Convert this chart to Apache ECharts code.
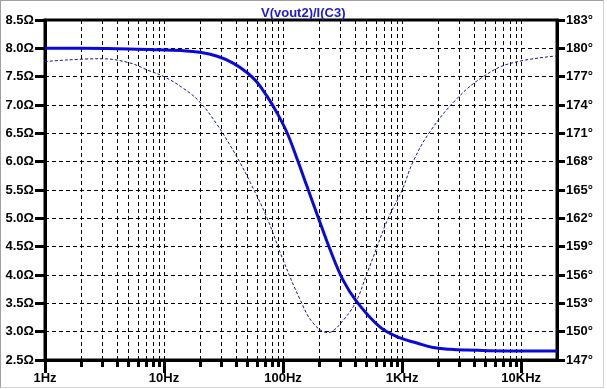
<!DOCTYPE html>
<html>
<head>
<meta charset="utf-8">
<script src="https://cdn.jsdelivr.net/npm/echarts@6/dist/echarts.min.js"></script>
<style>
html,body{margin:0;padding:0;background:#fff;}
#chart{position:absolute;left:0;top:0;width:607px;height:389px;}
#frame{position:absolute;left:0;top:0;width:604px;height:388px;box-sizing:border-box;
  border-top:1px solid #a0a0a0;border-left:1px solid #a0a0a0;border-right:1px solid #d4d4d4;border-bottom:1px solid #d4d4d4;pointer-events:none;}
</style>
</head>
<body>
<div id="chart"></div>
<div id="frame"></div>
<script>
// ---- data ----
const titleText = 'V(vout2)/I(C3)';

// magnitude |Z| (Ω), left axis
const magFreq = [1, 2, 5, 7.6, 14, 20, 28, 38, 50, 60, 73, 89, 108, 131, 159, 197, 248, 319, 419, 653, 962, 1330, 1820, 2530, 3500, 5200, 10000, 20000];
const magVals = [8.00, 8.00, 7.99, 7.98, 7.96, 7.93, 7.86, 7.74, 7.57, 7.41, 7.16, 6.86, 6.51, 6.05, 5.56, 5.02, 4.45, 3.91, 3.52, 3.08, 2.89, 2.80, 2.72, 2.69, 2.675, 2.665, 2.66, 2.66];

// phase (degrees), right axis
const phaseFreq = [1, 2.9, 5, 7.6, 10, 14.4, 20, 28, 36, 43.5, 53, 73, 100, 139, 179, 239, 263, 301, 403, 508, 617, 763, 1000, 1237, 1720, 2900, 4800, 8080, 20000];
const phaseVals = [178.6, 178.9, 178.5, 177.6, 177.0, 175.8, 174.3, 171.9, 169.7, 167.9, 165.8, 162.1, 157.6, 153.4, 150.9, 149.9, 150.1, 150.8, 153.0, 156.2, 159.0, 162.0, 165.0, 168.0, 171.2, 174.7, 177.0, 178.4, 179.2];

// axes
const xMin = 1, xMax = 20000;
const xMajor = [1, 10, 100, 1000, 10000];
const xMajorLabels = ['1Hz', '10Hz', '100Hz', '1KHz', '10KHz'];
const xMinor = [2,3,4,5,6,7,8,9, 20,30,40,50,60,70,80,90, 200,300,400,500,600,700,800,900, 2000,3000,4000,5000,6000,7000,8000,9000];
const yLeftMin = 2.5, yLeftMax = 8.5, yLeftStep = 0.5;
const yRightMin = 147, yRightMax = 183, yRightStep = 3;

const FONT = 'Liberation Sans';
const labelStyle = {color:'#000', fontFamily:FONT, fontWeight:'bold', fontSize:13};
const dash = [4,3];

const chart = echarts.init(document.getElementById('chart'), null, {renderer:'canvas'});
chart.setOption({
  animation:false,
  backgroundColor:'#fff',
  title:{text:titleText, left:256, top:2,
    textStyle:{color:'#1c1cc8', fontFamily:FONT, fontWeight:'bold', fontSize:13}},
  grid:{left:45, right:50, top:20, bottom:29, show:true, borderColor:'#000', borderWidth:3, backgroundColor:'transparent'},
  xAxis:{type:'log', logBase:10, min:xMin, max:xMax, splitNumber:5,
    axisLine:{show:true, onZero:false, lineStyle:{color:'#000', width:3}},
    axisTick:{show:true, length:13, lineStyle:{color:'#000', width:3}},
    axisLabel:{...labelStyle, margin:12, showMaxLabel:false, formatter:function(v){
      for (let i=0;i<xMajor.length;i++){ if (Math.abs(v-xMajor[i])<1e-6*xMajor[i]) return xMajorLabels[i]; }
      return '';
    }},
    splitLine:{show:true, lineStyle:{color:'#000', width:1, type:dash}},
    minorTick:{show:false}, minorSplitLine:{show:false}
  },
  yAxis:[
    {type:'value', min:yLeftMin, max:yLeftMax, interval:yLeftStep, position:'left',
      axisLine:{show:true, onZero:false, lineStyle:{color:'#000', width:3}},
      axisTick:{show:true, length:10, lineStyle:{color:'#000', width:3}},
      axisLabel:{...labelStyle, margin:11, formatter:v=>v.toFixed(1)+'Ω'},
      splitLine:{show:true, lineStyle:{color:'#000', width:1, type:dash}}},
    {type:'value', min:yRightMin, max:yRightMax, interval:yRightStep, position:'right',
      axisLine:{show:true, onZero:false, lineStyle:{color:'#000', width:3}},
      axisTick:{show:true, length:8, lineStyle:{color:'#000', width:3}},
      axisLabel:{...labelStyle, margin:9, formatter:v=>v+'°'},
      splitLine:{show:false}}
  ],
  series:[
    {type:'custom', name:'minorGrid', xAxisIndex:0, yAxisIndex:0, z:1, silent:true, clip:false,
      data:xMinor.map(f=>[f, yLeftMin]),
      encode:{x:0, y:1},
      renderItem:function(params, api){
        const f = api.value(0);
        const top = api.coord([f, yLeftMax]);
        const bot = api.coord([f, yLeftMin]);
        const x = Math.round(top[0]) + 0.5;
        return {type:'group', children:[
          {type:'line', shape:{x1:x, y1:top[1], x2:x, y2:bot[1]},
            style:{stroke:'#000', lineWidth:1, lineDash:dash}},
          {type:'line', shape:{x1:x, y1:bot[1], x2:x, y2:bot[1]+7},
            style:{stroke:'#000', lineWidth:3}}
        ]};
      }},
    {type:'line', name:'phase', yAxisIndex:1, z:3, symbol:'none', smooth:0.4,
      data:phaseFreq.map((f,i)=>[f, phaseVals[i]]),
      lineStyle:{color:'#14148c', width:1, type:[3,2]}},
    {type:'line', name:'mag', yAxisIndex:0, z:4, symbol:'none', smooth:0.4,
      data:magFreq.map((f,i)=>[f, magVals[i]]),
      lineStyle:{color:'#0a0ad8', width:3}}
  ]
});
</script>
</body>
</html>
